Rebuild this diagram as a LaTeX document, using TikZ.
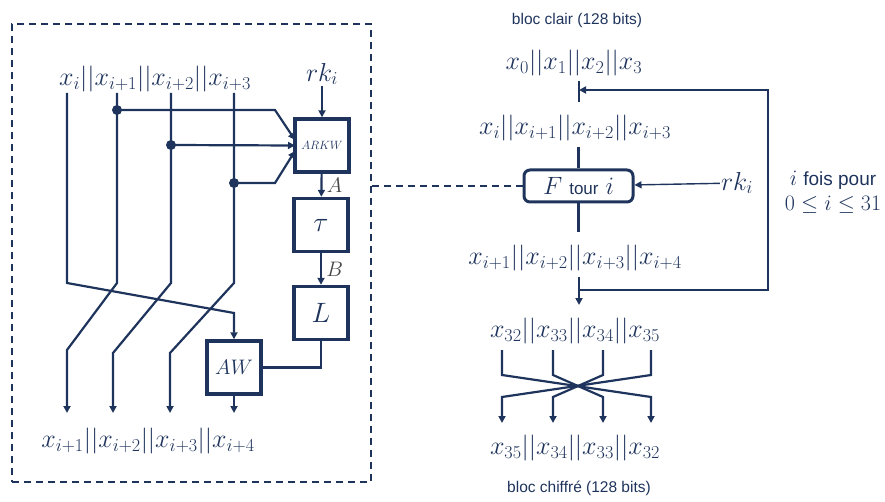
\documentclass[tikz,border=0pt]{standalone}
\usepackage{fix-cm}
\usepackage[no-math]{fontspec}
\setmainfont{Liberation Sans}
\usetikzlibrary{arrows.meta}
\definecolor{bleu}{RGB}{31,52,92}
\definecolor{gris}{RGB}{70,70,70}
\tikzset{
  fil/.style={draw=bleu, line width=2.2pt},
  fleche/.style={fil, -{Triangle[length=7pt,width=7pt]}},
  bloc/.style={draw=bleu, line width=3.4pt, minimum width=54pt, minimum height=53pt,
    inner sep=0pt, text=bleu, font=\fontsize{28}{30}\selectfont},
  etiq/.style={text=bleu, inner sep=1pt, font=\fontsize{26}{30}\selectfont},
  texte/.style={text=bleu, inner sep=1pt, font=\fontsize{15.5}{18}\selectfont},
  point/.style={circle, fill=bleu, inner sep=0pt, minimum size=10pt},
}
\begin{document}
\begin{tikzpicture}[x=1pt, y=-1pt]
  \useasboundingbox (0,0) rectangle (885,502);
  % Cadre de la fonction de tour
  \node[draw=bleu, line width=2.2pt, dash pattern=on 7pt off 5pt,
    minimum width=359pt, minimum height=458pt, inner sep=0pt] (cadre) at (191.5,253) {};
  % Entrees et cle
  \node[etiq] (xin) at (155,79) {$x_i||x_{i+1}||x_{i+2}||x_{i+3}$};
  \node[etiq] (rk) at (322,74) {$rk_i$};
  % Blocs
  \node[bloc, font=\fontsize{12}{13}\selectfont] (arkw) at (322,145.5) {$ARKW$};
  \node[bloc] (tau) at (321,225) {$\tau$};
  \node[bloc] (L) at (321,313) {$L$};
  \node[bloc, font=\fontsize{21}{22}\selectfont] (aw) at (234,367.5) {$AW$};
  \draw[fleche] (rk) -- (arkw);
  \draw[fleche] (arkw) -- node[right=1pt, text=gris, font=\fontsize{21}{22}\selectfont] {$A$} (tau);
  \draw[fleche] (tau) -- node[right=1pt, text=gris, font=\fontsize{21}{22}\selectfont] {$B$} (L);
  \draw[fil] (L.south) |- (aw.east);
  % Fils d'entree
  \foreach \n/\x in {0/67,1/117,2/171,3/234} {
    \coordinate (e\n) at (\x,93);
    \coordinate (c\n) at (\x,283);
  }
  \foreach \n/\x in {1/67,2/113,3/170,4/234}
    \coordinate (s\n) at (\x,413);
  \draw[fleche] (e0) -- (c0) -- (234,313) -- (aw.north);
  \draw[fleche] (e1) -- (c1) -- (67,350) -- (s1);
  \draw[fleche] (e2) -- (c2) -- (113,353) -- (s2);
  \draw[fleche] (e3) -- (c3) -- (170,353) -- (s3);
  \draw[fleche] (aw) -- (s4);
  % Derivations vers ARKW
  \node[point] (d1) at (117,110) {};
  \node[point] (d2) at (171,145) {};
  \node[point] (d3) at (234,183) {};
  \coordinate (a1) at (295,140);
  \coordinate (a2) at (295,145.5);
  \coordinate (a3) at (295,151);
  \draw[fleche] (d1.center) -- (275,110) -- (a1);
  \draw[fleche] (d2.center) -- (a2);
  \draw[fleche] (d3.center) -- (275,183) -- (a3);
  \node[etiq] (xout) at (148,441) {$x_{i+1}||x_{i+2}||x_{i+3}||x_{i+4}$};
  % Schema general
  \node[texte] (clair) at (577,20) {bloc clair (128 bits)};
  \node[etiq] (x0) at (574,63) {$x_0||x_1||x_2||x_3$};
  \coordinate (t1) at (579,81);
  \coordinate (t2) at (579,102);
  \draw[fil] (t1) -- (t2);
  \node[etiq] (xi) at (575,128) {$x_i||x_{i+1}||x_{i+2}||x_{i+3}$};
  \node[draw=bleu, line width=3pt, rounded corners=6pt, minimum width=109pt,
    minimum height=32pt, inner sep=0pt, text=bleu, font=\fontsize{25}{28}\selectfont]
    (F) at (578.5,186) {$F$ {\fontsize{17}{18}\selectfont tour} $i$};
  \node[etiq] (rk2) at (737,183) {$rk_i$};
  \coordinate (fh) at (578.5,147);
  \coordinate (fb) at (578.5,232);
  \draw[fil] (F.north) -- (fh);
  \draw[fleche, line width=1.4pt] (rk2) -- (F);
  \draw[fil, dash pattern=on 7pt off 5pt] (cadre.east |- F.west) -- (F.west);
  \node[etiq] (xs) at (575,258) {$x_{i+1}||x_{i+2}||x_{i+3}||x_{i+4}$};
  \draw[fil] (F.south) -- (fb);
  % Boucle
  \coordinate (bj) at (579,290);
  \coordinate (bh) at (579,90);
  \coordinate (boucle) at (768,90);
  \coordinate (bs) at (579,305);
  \node[etiq, align=center, font=\fontsize{22}{25}\selectfont] (iter) at (833,192)
    {$i$ {\fontsize{19}{22}\selectfont fois pour}\\$0\le i\le 31$};
  \node[etiq] (x32) at (575,331) {$x_{32}||x_{33}||x_{34}||x_{35}$};
  \draw[fleche] (579,277) -- (bs);
  \draw[fleche] (bj) -| (boucle) -- (bh);
  % Inversion finale
  \foreach \n/\a/\b in {1/502/651,2/553/603,3/603/553,4/651/502} {
    \coordinate (h\n) at (\a,350);
    \coordinate (b\n) at (\b,423);
    \draw[fleche] (h\n) -- (\a,375) -- (\b,397) -- (b\n);
  }
  \node[etiq] (x35) at (575,448) {$x_{35}||x_{34}||x_{33}||x_{32}$};
  \node[texte] (chiffre) at (579,488) {bloc chiffré (128 bits)};
\end{tikzpicture}
\end{document}
